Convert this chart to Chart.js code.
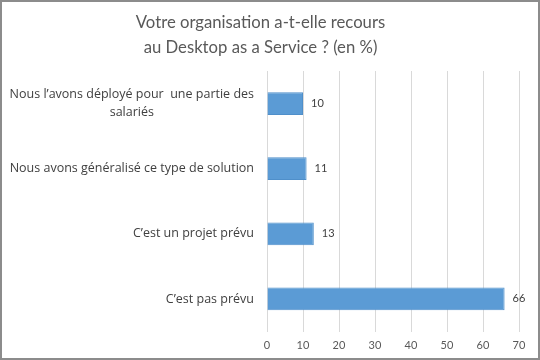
<!DOCTYPE html>
<html>
<head>
<meta charset="utf-8">
<script src="https://cdn.jsdelivr.net/npm/chart.js@4"></script>
<style>
  html, body { margin: 0; padding: 0; background: #fff; }
  #wrap { width: 540px; height: 360px; box-sizing: border-box; border: 2px solid #8c8c8c; position: relative; background: #fff; }
  canvas { display: block; }
</style>
</head>
<body>
<div id="wrap"><canvas id="c" width="536" height="356"></canvas></div>
<script>
const titleLines = ["Votre organisation a-t-elle recours", "au Desktop as a Service ? (en %)"];
const categories = [
  ["Nous l\u2019avons déployé pour  une partie des", "salariés"],
  ["Nous avons généralisé ce type de solution"],
  ["C\u2019est un projet prévu"],
  ["C\u2019est pas prévu"]
];
const values = [10, 11, 13, 66];
const xMin = 0, xMax = 70, xStep = 10;

const FONT = "Lato, 'Open Sans', sans-serif";
const LABEL_FONT = "'Open Sans', Lato, sans-serif";

const catLabelPlugin = {
  id: 'catLabels',
  afterDraw(chart) {
    const ctx = chart.ctx;
    const ys = chart.scales.y;
    const rightEdge = chart.chartArea.left - 13;
    ctx.save();
    ctx.font = "12.5px " + LABEL_FONT;
    ctx.fillStyle = "#404040";
    ctx.textBaseline = "middle";
    ctx.textAlign = "center";
    const lh = 18;
    categories.forEach((lines, i) => {
      const y = ys.getPixelForTick(i);
      const maxW = Math.max(...lines.map(l => ctx.measureText(l).width));
      const cx = rightEdge - maxW / 2;
      const top = y - (lines.length - 1) * lh / 2;
      lines.forEach((l, k) => ctx.fillText(l, cx, top + k * lh));
    });
    ctx.restore();
  }
};

const valueLabelPlugin = {
  id: 'valueLabels',
  afterDatasetsDraw(chart) {
    const ctx = chart.ctx;
    const meta = chart.getDatasetMeta(0);
    ctx.save();
    ctx.font = "11px " + FONT;
    ctx.fillStyle = "#404040";
    ctx.textBaseline = "middle";
    ctx.textAlign = "left";
    meta.data.forEach((bar, i) => {
      ctx.fillText(String(values[i]), bar.x + 8, bar.y);
    });
    ctx.restore();
  }
};

new Chart(document.getElementById('c'), {
  type: 'bar',
  data: {
    labels: categories.map(c => c.join(' ')),
    datasets: [{
      data: values,
      backgroundColor: '#5b9bd5',
      borderColor: '#4f8fca',
      borderWidth: 1,
      categoryPercentage: 0.35,
      barPercentage: 1
    }]
  },
  options: {
    indexAxis: 'y',
    responsive: false,
    animation: false,
    layout: { padding: { left: 0, right: 19, top: 0, bottom: 0 } },
    plugins: {
      legend: { display: false },
      tooltip: { enabled: false },
      title: {
        display: true,
        text: titleLines,
        color: '#595959',
        font: { family: FONT, size: 16.7, weight: 'normal', lineHeight: '25px' },
        padding: { top: 8, bottom: 11 }
      }
    },
    scales: {
      y: {
        ticks: { display: false },
        grid: { display: false },
        border: { display: false },
        afterFit(scale) { scale.width = 265; }
      },
      x: {
        min: xMin, max: xMax,
        ticks: { stepSize: xStep, color: '#595959', font: { family: FONT, size: 11 }, padding: 7 },
        grid: { color: '#d9d9d9', drawTicks: false },
        border: { display: false },
        afterFit(scale) { scale.height = 26.5; }
      }
    }
  },
  plugins: [catLabelPlugin, valueLabelPlugin]
});
</script>
</body>
</html>
